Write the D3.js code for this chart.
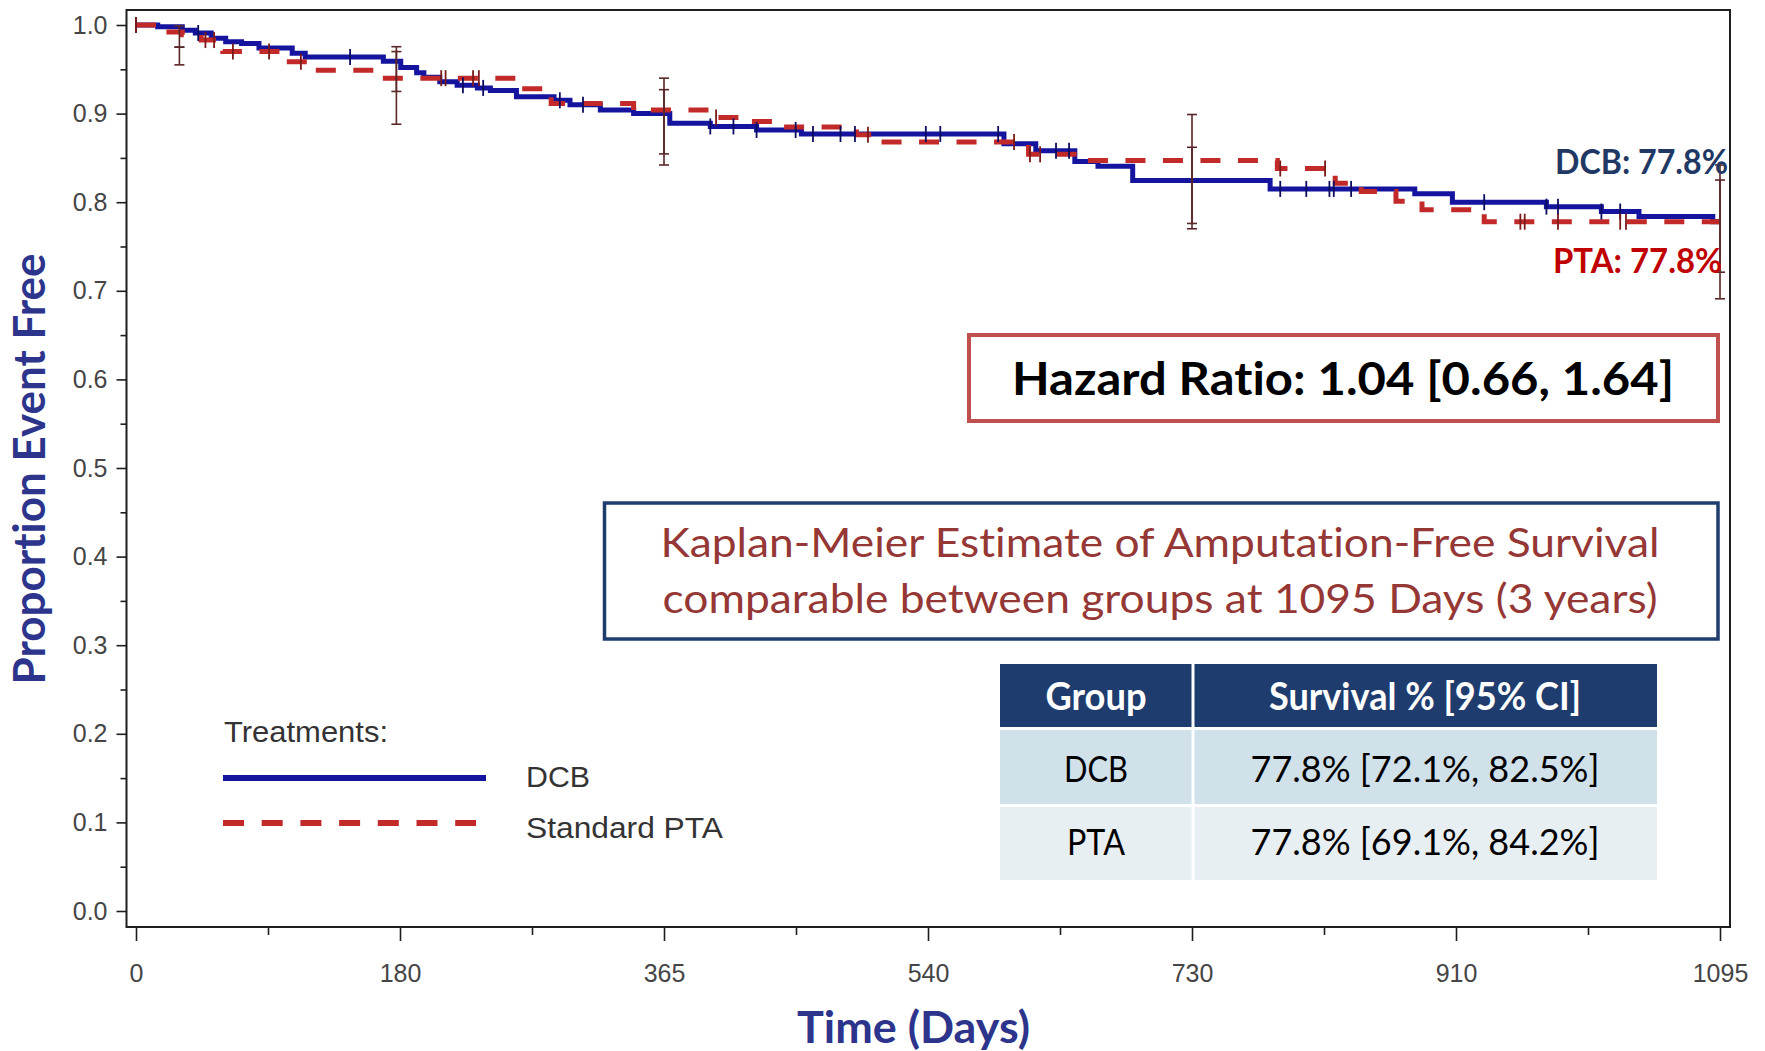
<!DOCTYPE html>
<html>
<head>
<meta charset="utf-8">
<script src="https://cdn.jsdelivr.net/npm/d3@7"></script>
<style>
  html, body { margin: 0; padding: 0; background: #fff; }
  svg { display: block; }
  text { font-variant-ligatures: none; }
</style>
</head>
<body>
<div id="chart"></div>
<script>

// Kaplan-Meier steps (day, proportion event free)
const dcbTimes = [0, 15, 32, 41, 52, 62, 73, 85, 108, 117, 171, 183, 194, 199, 210, 222, 236, 245, 263, 289, 300, 321, 344, 369, 397, 429, 460, 600, 622, 649, 665, 689, 784, 884, 910, 975, 1013, 1039, 1090, 1095];
const dcbSurv = [1.0, 0.998, 0.994, 0.991, 0.985, 0.981, 0.979, 0.974, 0.968, 0.964, 0.959, 0.952, 0.946, 0.941, 0.936, 0.932, 0.929, 0.926, 0.919, 0.915, 0.910, 0.904, 0.900, 0.889, 0.8855, 0.8815, 0.877, 0.866, 0.858, 0.846, 0.8405, 0.8245, 0.815, 0.8095, 0.800, 0.795, 0.7895, 0.784, 0.778, 0.778];

const ptaTimes = [0, 18, 32, 45, 60, 101, 119, 166, 263, 287, 344, 400, 422, 445, 498, 515, 617, 655, 789, 829, 847, 871, 889, 932, 1095];
const ptaSurv = [1.0, 0.992, 0.989, 0.983, 0.970, 0.9586, 0.949, 0.940, 0.928, 0.9115, 0.904, 0.8955, 0.891, 0.885, 0.876, 0.868, 0.854, 0.847, 0.838, 0.8215, 0.812, 0.801, 0.7914, 0.778, 0.778];

// censored observations (days)
const dcbCensor = [0, 43, 148, 226, 240, 293, 309, 397, 413, 429, 456, 468, 487, 497, 546, 556, 596, 636, 645, 791, 809, 825, 828, 840, 932, 975, 983, 1013, 1026];
const ptaCensor = [0, 48, 54, 67, 92, 114, 211, 214, 233, 237, 401, 506, 607, 618, 625, 791, 822, 957, 960, 983, 1026, 1030];

// confidence intervals at landmark days
const ciDays = [30, 180, 365, 730, 1095];
const dcbLower = [0.975, 0.925, 0.8545, 0.776, 0.721];
const dcbUpper = [0.999, 0.970, 0.927, 0.862, 0.825];
const ptaLower = [0.955, 0.888, 0.842, 0.770, 0.691];
const ptaUpper = [0.975, 0.9755, 0.940, 0.899, 0.842];

// axes
const xTickValues = [0, 182.5, 365, 547.5, 730, 912.5, 1095];
const xTickLabels = ["0", "180", "365", "540", "730", "910", "1095"];
const xMinorTicks = [91.25, 273.75, 456.25, 638.75, 821.25, 1003.75];
const yTickValues = [0, 0.1, 0.2, 0.3, 0.4, 0.5, 0.6, 0.7, 0.8, 0.9, 1.0];
const yMinorTicks = [0.05, 0.15, 0.25, 0.35, 0.45, 0.55, 0.65, 0.75, 0.85, 0.95];

// table
const tableHeader = ["Group", "Survival % [95% CI]"];
const tableGroups = ["DCB", "PTA"];
const tableValues = ["77.8% [72.1%, 82.5%]", "77.8% [69.1%, 84.2%]"];

const legendNames = ["DCB", "Standard PTA"];

const BLUE = "#14149e";
const RED = "#c22a2a";
const NAVY = "#1f3864";
const TITLE = "#2c348c";
const CALIBRI = "Lato, 'Open Sans', sans-serif";
const ARIAL = "'Liberation Sans', Arial, sans-serif";

function drawChart() {
    const width = 1765, height = 1051;

    const svg = d3.select("#chart")
        .append("svg")
        .attr("width", width)
        .attr("height", height)
        .style("background", "#fff");

    const x = d3.scaleLinear().domain([0, 1095]).range([136, 1720]);
    const y = d3.scaleLinear().domain([0, 1]).range([911, 25]);

    const frame = { left: 126.5, right: 1730, top: 10, bottom: 927 };

    // plot frame
    svg.append("rect")
        .attr("x", frame.left)
        .attr("y", frame.top)
        .attr("width", frame.right - frame.left)
        .attr("height", frame.bottom - frame.top)
        .attr("fill", "none")
        .attr("stroke", "#1e1e1e")
        .attr("stroke-width", 2);

    // y axis
    const yAxis = svg.append("g")
        .attr("transform", `translate(${frame.left},0)`)
        .call(d3.axisLeft(y).tickValues(yTickValues).tickSize(10).tickPadding(9).tickFormat(d3.format(".1f")));
    yAxis.append("g")
        .call(d3.axisLeft(y).tickValues(yMinorTicks).tickSize(6).tickFormat(""));

    // x axis
    const xAxis = svg.append("g")
        .attr("transform", `translate(0,${frame.bottom})`)
        .call(d3.axisBottom(x).tickValues(xTickValues).tickSize(14).tickPadding(23)
            .tickFormat((d, i) => xTickLabels[i]));
    xAxis.append("g")
        .call(d3.axisBottom(x).tickValues(xMinorTicks).tickSize(8).tickFormat(""));

    svg.selectAll(".domain").remove();
    svg.selectAll(".tick line").attr("stroke", "#1e1e1e").attr("stroke-width", 1.6);
    svg.selectAll(".tick text")
        .style("font-family", ARIAL)
        .style("font-size", "25px")
        .attr("fill", "#454545");

    // curves
    const line = d3.line()
        .x(d => x(d[0]))
        .y(d => y(d[1]))
        .curve(d3.curveStepAfter);

    svg.append("path")
        .datum(d3.zip(dcbTimes, dcbSurv))
        .attr("fill", "none")
        .attr("stroke", BLUE)
        .attr("stroke-width", 5)
        .attr("d", line);

    svg.append("path")
        .datum(d3.zip(ptaTimes, ptaSurv))
        .attr("fill", "none")
        .attr("stroke", RED)
        .attr("stroke-width", 5)
        .attr("stroke-dasharray", "20,17.5")
        .attr("d", line);

    // censor marks
    const stepAt = (times, surv, t) => surv[Math.max(0, d3.bisectRight(times, t) - 1)];
    const censor = [
        { times: dcbTimes, surv: dcbSurv, marks: dcbCensor, color: "#0c0c60" },
        { times: ptaTimes, surv: ptaSurv, marks: ptaCensor, color: "#7a1a1a" }
    ];
    censor.forEach(s => {
        svg.append("g")
            .selectAll("line")
            .data(s.marks)
            .enter()
            .append("line")
            .attr("x1", d => x(d))
            .attr("x2", d => x(d))
            .attr("y1", d => y(stepAt(s.times, s.surv, d)) - 8)
            .attr("y2", d => y(stepAt(s.times, s.surv, d)) + 8)
            .attr("stroke", s.color)
            .attr("stroke-width", 1.8);
    });

    // confidence intervals
    const ci = [];
    ciDays.forEach((d, i) => {
        ci.push({ day: d, lo: ptaLower[i], hi: ptaUpper[i] });
        ci.push({ day: d, lo: dcbLower[i], hi: dcbUpper[i] });
    });
    const ciG = svg.append("g").attr("stroke", "#5a2626").attr("stroke-width", 1.6);
    ciG.selectAll(".bar")
        .data(ci)
        .enter()
        .append("line")
        .attr("x1", d => x(d.day))
        .attr("x2", d => x(d.day))
        .attr("y1", d => y(d.hi))
        .attr("y2", d => y(d.lo));
    ciG.selectAll(".cap")
        .data(ci.flatMap(d => [{ day: d.day, v: d.lo }, { day: d.day, v: d.hi }]))
        .enter()
        .append("line")
        .attr("x1", d => x(d.day) - 5)
        .attr("x2", d => x(d.day) + 5)
        .attr("y1", d => y(d.v))
        .attr("y2", d => y(d.v));

    // helper: text stretched to the width seen in the picture
    function fitText(g, str, o) {
        return g.append("text")
            .attr("x", o.x)
            .attr("y", o.y)
            .attr("text-anchor", o.anchor || "middle")
            .attr("textLength", o.len)
            .attr("lengthAdjust", "spacingAndGlyphs")
            .style("font-family", o.family || CALIBRI)
            .style("font-size", o.size + "px")
            .style("font-weight", o.bold ? 700 : 400)
            .attr("fill", o.color)
            .text(str);
    }

    // axis titles
    fitText(svg, "Time (Days)", { x: 913.5, y: 1043, len: 233, size: 43, bold: true, color: TITLE });
    fitText(svg.append("g").attr("transform", "translate(45,469) rotate(-90)"),
        "Proportion Event Free", { x: 0, y: 0, len: 431, size: 44, bold: true, color: TITLE });

    // end labels
    fitText(svg, "DCB: 77.8%", { x: 1555, y: 174, len: 173, size: 35, bold: true, color: NAVY, anchor: "start" });
    fitText(svg, "PTA: 77.8%", { x: 1553, y: 273, len: 169, size: 35, bold: true, color: "#c00000", anchor: "start" });

    // hazard ratio box
    svg.append("rect")
        .attr("x", 969).attr("y", 335)
        .attr("width", 749).attr("height", 86)
        .attr("fill", "#fff")
        .attr("stroke", "#c0504d")
        .attr("stroke-width", 4);
    fitText(svg, "Hazard Ratio: 1.04 [0.66, 1.64]", { x: 1343, y: 395, len: 662, size: 46, bold: true, color: "#000" });

    // summary box
    svg.append("rect")
        .attr("x", 604.5).attr("y", 503)
        .attr("width", 1113.5).attr("height", 136)
        .attr("fill", "#fff")
        .attr("stroke", "#1f3d6d")
        .attr("stroke-width", 3.5);
    fitText(svg, "Kaplan-Meier Estimate of Amputation-Free Survival", { x: 1160, y: 557, len: 999, size: 40, color: "#953735" });
    fitText(svg, "comparable between groups at 1095 Days (3 years)", { x: 1160, y: 613, len: 995, size: 40, color: "#953735" });

    // table
    const cols = [{ x0: 1000, x1: 1191.5, cx: 1096 }, { x0: 1194.5, x1: 1657, cx: 1425 }];
    const rows = [{ y0: 664, y1: 727, fill: "#1f3c6e" }, { y0: 730, y1: 804, fill: "#d0e1ea" }, { y0: 807, y1: 880, fill: "#e8eff3" }];
    const table = svg.append("g");
    rows.forEach(r => {
        cols.forEach(c => {
            table.append("rect")
                .attr("x", c.x0).attr("y", r.y0)
                .attr("width", c.x1 - c.x0).attr("height", r.y1 - r.y0)
                .attr("fill", r.fill);
        });
    });
    fitText(table, tableHeader[0], { x: cols[0].cx, y: 710, len: 101, size: 38, bold: true, color: "#fff" });
    fitText(table, tableHeader[1], { x: cols[1].cx, y: 710, len: 312, size: 38, bold: true, color: "#fff" });
    const rowBase = [782, 855];
    const valueLen = [349, 349];
    tableGroups.forEach((g, i) => {
        fitText(table, g, { x: cols[0].cx, y: rowBase[i], len: g === "DCB" ? 64 : 58, size: 36, color: "#000" });
        fitText(table, tableValues[i], { x: cols[1].cx, y: rowBase[i], len: valueLen[i], size: 36, color: "#000" });
    });

    // legend
    const legend = svg.append("g");
    fitText(legend, "Treatments:", { x: 224, y: 742, len: 164, size: 30, color: "#333", family: ARIAL, anchor: "start" });
    const legendItems = [
        { name: legendNames[0], color: BLUE, dash: null, ly: 778, ty: 787, x2: 486, len: 64 },
        { name: legendNames[1], color: RED, dash: "21,17.7", ly: 823, ty: 838, x2: 476, len: 197 }
    ];
    legendItems.forEach(d => {
        legend.append("line")
            .attr("x1", 223).attr("x2", d.x2)
            .attr("y1", d.ly).attr("y2", d.ly)
            .attr("stroke", d.color)
            .attr("stroke-width", 6)
            .attr("stroke-dasharray", d.dash);
        fitText(legend, d.name, { x: 526, y: d.ty, len: d.len, size: 30, color: "#333", family: ARIAL, anchor: "start" });
    });
}

drawChart();
</script>
</body>
</html>
